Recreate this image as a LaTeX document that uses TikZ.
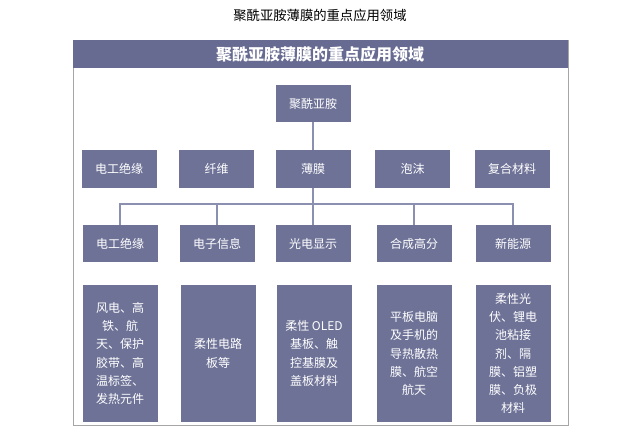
\documentclass[tikz,border=0pt]{standalone}
\usepackage{fontspec}
\setmainfont{Noto Sans CJK SC}
\begin{document}
\begin{tikzpicture}[x=0.75pt,y=-0.75pt,
  bx/.style={fill=boxc,text=white,font=\fontsize{9}{13.7}\selectfont,inner sep=0pt,align=center},
  ln/.style={draw=linec,line width=0.8pt}]
\definecolor{boxc}{HTML}{6E7297}
\definecolor{headc}{HTML}{676B91}
\definecolor{linec}{HTML}{8C90B0}
\useasboundingbox (0,0) rectangle (640,436);
\node (title) at (320,15) {\fontsize{10}{12}\selectfont 聚酰亚胺薄膜的重点应用领域};
\draw[draw=gray!70,fill=white] (73,40) rectangle (568,425);
\fill[headc] (73,40) rectangle (568,68);
\node (head) at (320,54) [text=white,font=\fontsize{12}{14}\selectfont\bfseries] {聚酰亚胺薄膜的重点应用领域};
\newcommand\bxat[5]{\node[bx,minimum width=75*0.75pt,minimum height=#4*0.75pt] (#1) at (#2,#3) {#5};}
\bxat{pi}{313}{103.5}{37}{聚酰亚胺}
\bxat{a1}{119}{169}{38}{电工绝缘}
\bxat{a2}{216.5}{169}{38}{纤维}
\bxat{a3}{313}{169}{38}{薄膜}
\bxat{a4}{412.5}{169}{38}{泡沫}
\bxat{a5}{512}{169}{38}{复合材料}
\bxat{b1}{120}{243.5}{37}{电工绝缘}
\bxat{b2}{217}{243.5}{37}{电子信息}
\bxat{b3}{313}{243.5}{37}{光电显示}
\bxat{b4}{414}{243.5}{37}{合成高分}
\bxat{b5}{513}{243.5}{37}{新能源}
\bxat{c1}{120}{353.5}{137}{风电、高\\铁、航\\天、保护\\胶带、高\\温标签、\\发热元件}
\bxat{c2}{218}{353.5}{137}{柔性电路\\板等}
\bxat{c3}{314}{353.5}{137}{柔性 OLED\\基板、触\\控基膜及\\盖板材料}
\bxat{c4}{414}{353.5}{137}{平板电脑\\及手机的\\导热散热\\膜、航空\\航天}
\bxat{c5}{513}{353.5}{137}{柔性光\\伏、锂电\\池粘接\\剂、隔\\膜、铝塑\\膜、负极\\材料}
\coordinate (h) at (313,204);
\draw[ln] (pi) -- (a3);
\draw[ln] (a3) -- (b3);
\draw[ln] (b1.north) |- (h) -| (b5.north);
\draw[ln] (b2.north) -- (b2.north |- h);
\draw[ln] (b4.north) -- (b4.north |- h);
\end{tikzpicture}
\end{document}
